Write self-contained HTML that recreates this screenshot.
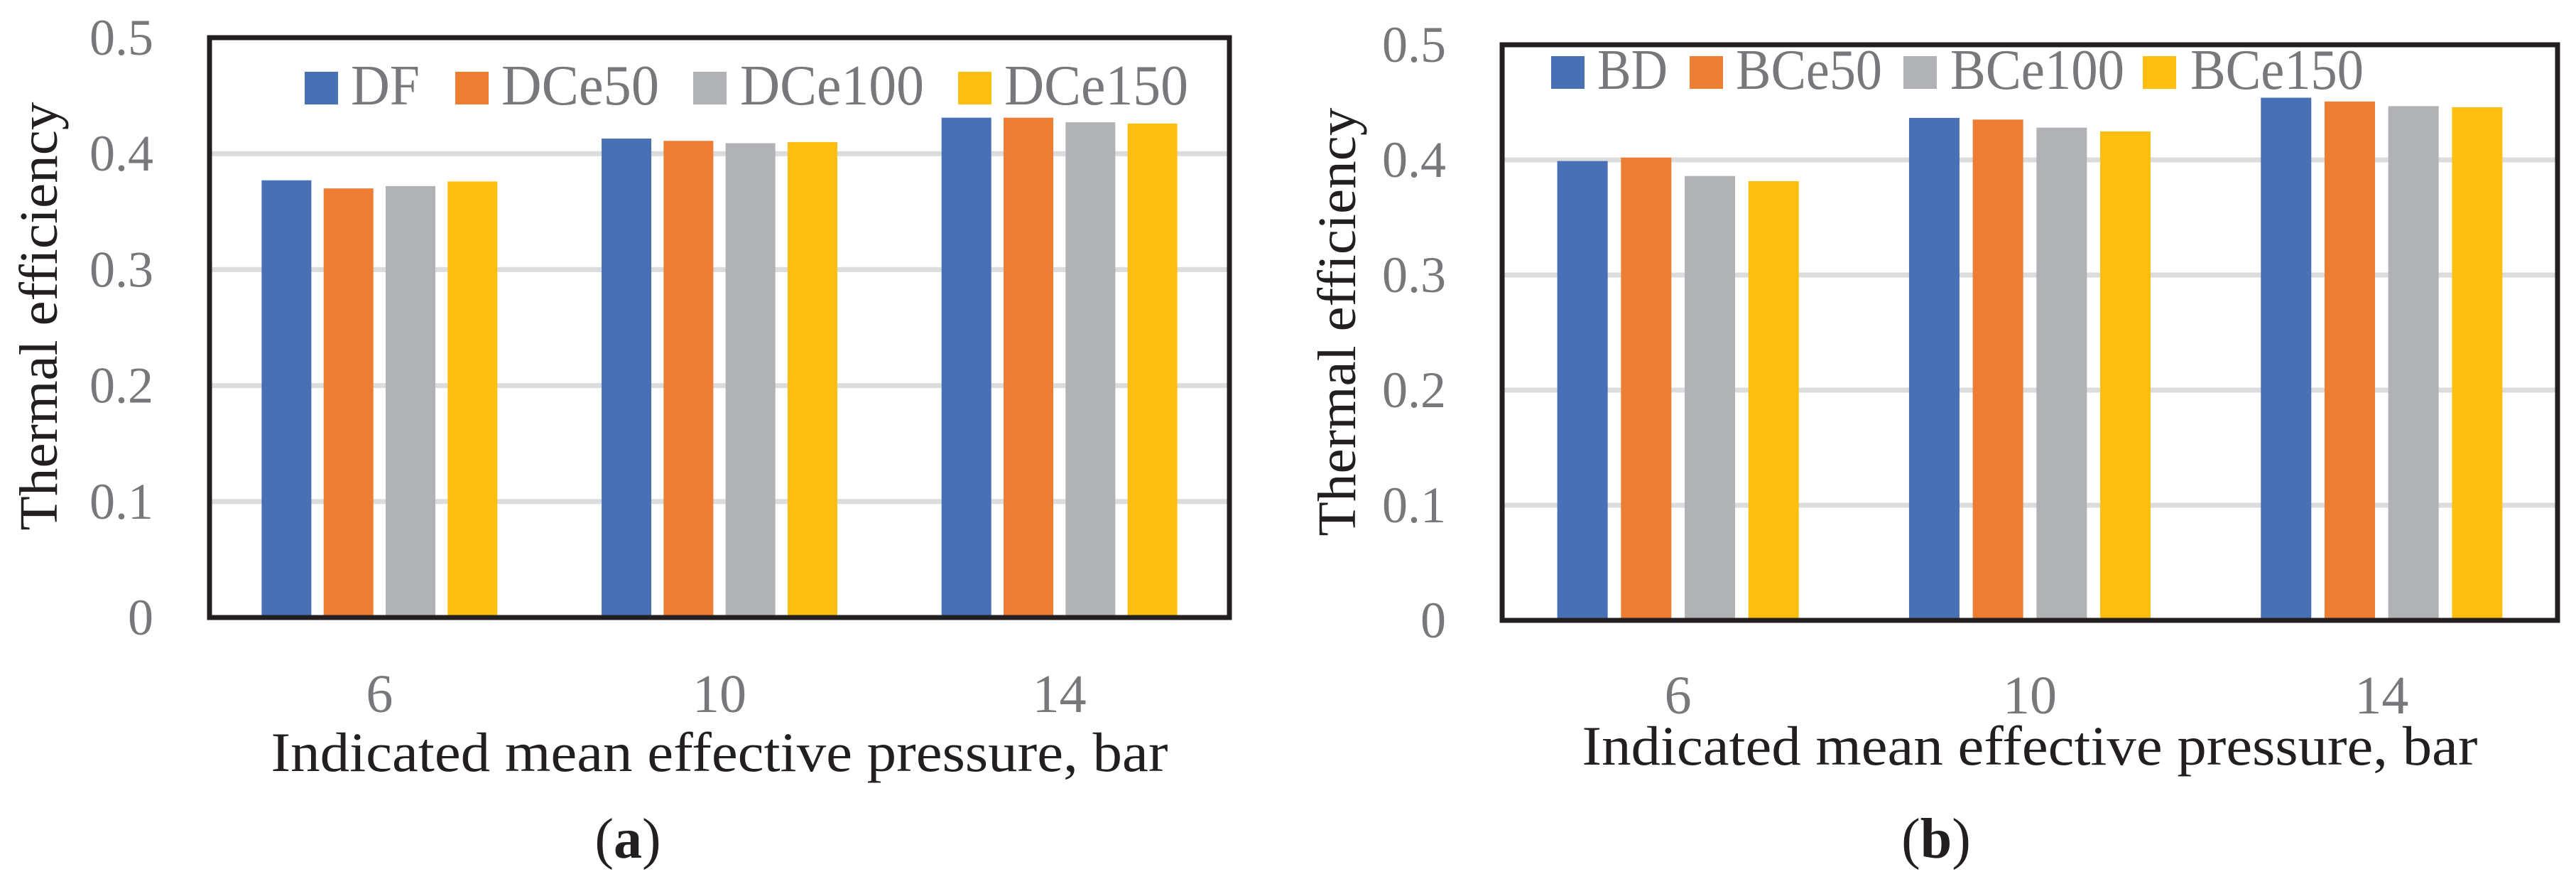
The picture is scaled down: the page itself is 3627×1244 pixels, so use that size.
<!DOCTYPE html>
<html><head><meta charset="utf-8">
<style>
html,body{margin:0;padding:0;background:#fff;}
svg{display:block;}
text{font-family:"Liberation Serif",serif;}
</style></head>
<body>
<svg id="chart" width="3627" height="1244" viewBox="0 0 3627 1244" xmlns="http://www.w3.org/2000/svg"></svg>
<script>
const categories = ["6", "10", "14"];
const yTicks = [0, 0.1, 0.2, 0.3, 0.4, 0.5];
const yTickLabels = ["0", "0.1", "0.2", "0.3", "0.4", "0.5"];
const seriesNamesA = ["DF", "DCe50", "DCe100", "DCe150"];
const seriesNamesB = ["BD", "BCe50", "BCe100", "BCe150"];
const dfValues = [0.377, 0.413, 0.431];
const dce50Values = [0.370, 0.411, 0.431];
const dce100Values = [0.372, 0.409, 0.427];
const dce150Values = [0.376, 0.410, 0.426];
const bdValues = [0.399, 0.4365, 0.454];
const bce50Values = [0.402, 0.435, 0.4507];
const bce100Values = [0.386, 0.428, 0.4467];
const bce150Values = [0.3815, 0.4247, 0.4457];

const colors = ["#4870b5", "#ed7d33", "#b1b2b5", "#fdbf0f"];
const NS = "http://www.w3.org/2000/svg";
const svg = document.getElementById("chart");
function mk(tag, attrs, parent) {
  const e = document.createElementNS(NS, tag);
  for (const k in attrs) e.setAttribute(k, attrs[k]);
  (parent || svg).appendChild(e);
  return e;
}

function panel(cfg) {
  const g = mk("g", {});
  
  
  const yScale = v => cfg.y0 - v / 0.5 * (cfg.y0 - cfg.yTop);
  const catW = (cfg.right - cfg.left) / categories.length;
  const xCenter = i => cfg.left + catW * (i + 0.5);
  // gridlines
  yTicks.forEach((t, i) => {
    if (t > 0 && t < 0.5) {
      const l = mk("line", {x1: cfg.left, x2: cfg.right, y1: yScale(t), y2: yScale(t), stroke: "#dcdcde", "stroke-width": 7}, g);
      
      
    }
    const tl = mk("text", {x: cfg.tickRight, y: yScale(t) + 24, "text-anchor": "end", "font-size": 72, fill: "#77787b"}, g);
    
    
    tl.textContent = yTickLabels[i];
  });
  // bars
  const groupW = 3 * cfg.step + cfg.barW;
  cfg.series.forEach((vals, s) => {
    vals.forEach((v, i) => {
      const x = xCenter(i) - groupW / 2 + s * cfg.step;
      const r = mk("rect", {x: x, y: yScale(v), width: cfg.barW, height: yScale(0) - yScale(v), fill: colors[s]}, g);
      
      
    });
  });
  // frame
  const f = mk("rect", {x: cfg.left, y: cfg.yTop, width: cfg.right - cfg.left, height: cfg.y0 - cfg.yTop, fill: "none", stroke: "#231f20", "stroke-width": 7}, g);
  
  
  // x ticks
  categories.forEach((c, i) => {
    const t = mk("text", {x: xCenter(i), y: cfg.xTickY, "text-anchor": "middle", "font-size": 76, fill: "#77787b"}, g);
    
    
    t.textContent = c;
  });
  // legend
  cfg.legend.forEach((L, s) => {
    const sq = mk("rect", {x: L[0], y: cfg.legY - 46, width: 47, height: 46, fill: colors[s]}, g);
    
    
    const t = mk("text", {x: L[1], y: cfg.legY, "font-size": 80, fill: "#77787b", textLength: L[2], lengthAdjust: "spacingAndGlyphs"}, g);
    
    
    t.textContent = cfg.names[s];
  });
  // axis titles
  const yt = mk("text", {x: 0, y: 0, "text-anchor": "middle", "font-size": 76, fill: "#231f20", textLength: 603, lengthAdjust: "spacingAndGlyphs", transform: "translate(" + (cfg.yTitleX + 26) + "," + cfg.yTitleY + ") rotate(-90)"}, g);
  
  
  yt.textContent = "Thermal efficiency";
  const xt = mk("text", {x: cfg.xTitleX, y: cfg.xTitleY, "text-anchor": "middle", "font-size": 78, fill: "#231f20", textLength: cfg.xTitleW, lengthAdjust: "spacingAndGlyphs"}, g);
  
  
  xt.textContent = "Indicated mean effective pressure, bar";
  const cap = mk("text", {x: cfg.capX, y: 1207, "text-anchor": "middle", "font-size": 80, fill: "#231f20"}, g);
  
  
  cap.innerHTML = '(<tspan font-weight="bold">' + cfg.cap + '</tspan>)';
}

panel({name: "panel-a", left: 295, right: 1731, yTop: 53, y0: 869, tickRight: 216,
  barW: 70, step: 87.3, series: [dfValues, dce50Values, dce100Values, dce150Values], names: seriesNamesA,
  xTickY: 1002, legY: 147,
  legend: [[429, 494, 97], [641, 706, 222], [976, 1042, 259], [1349, 1414, 259]],
  yTitleX: 54, yTitleY: 445, xTitleX: 1013, xTitleY: 1085, xTitleW: 1263, capX: 884, cap: "a"});
panel({name: "panel-b", left: 2115, right: 3601, yTop: 63, y0: 873, tickRight: 2036,
  barW: 71, step: 89.7, series: [bdValues, bce50Values, bce100Values, bce150Values], names: seriesNamesB,
  xTickY: 1004, legY: 125,
  legend: [[2184, 2249, 99], [2379, 2444, 206], [2680, 2746, 245], [3017, 3084, 244]],
  yTitleX: 1882, yTitleY: 453, xTitleX: 2858, xTitleY: 1076, xTitleW: 1261, capX: 2726, cap: "b"});
</script>
</body></html>
